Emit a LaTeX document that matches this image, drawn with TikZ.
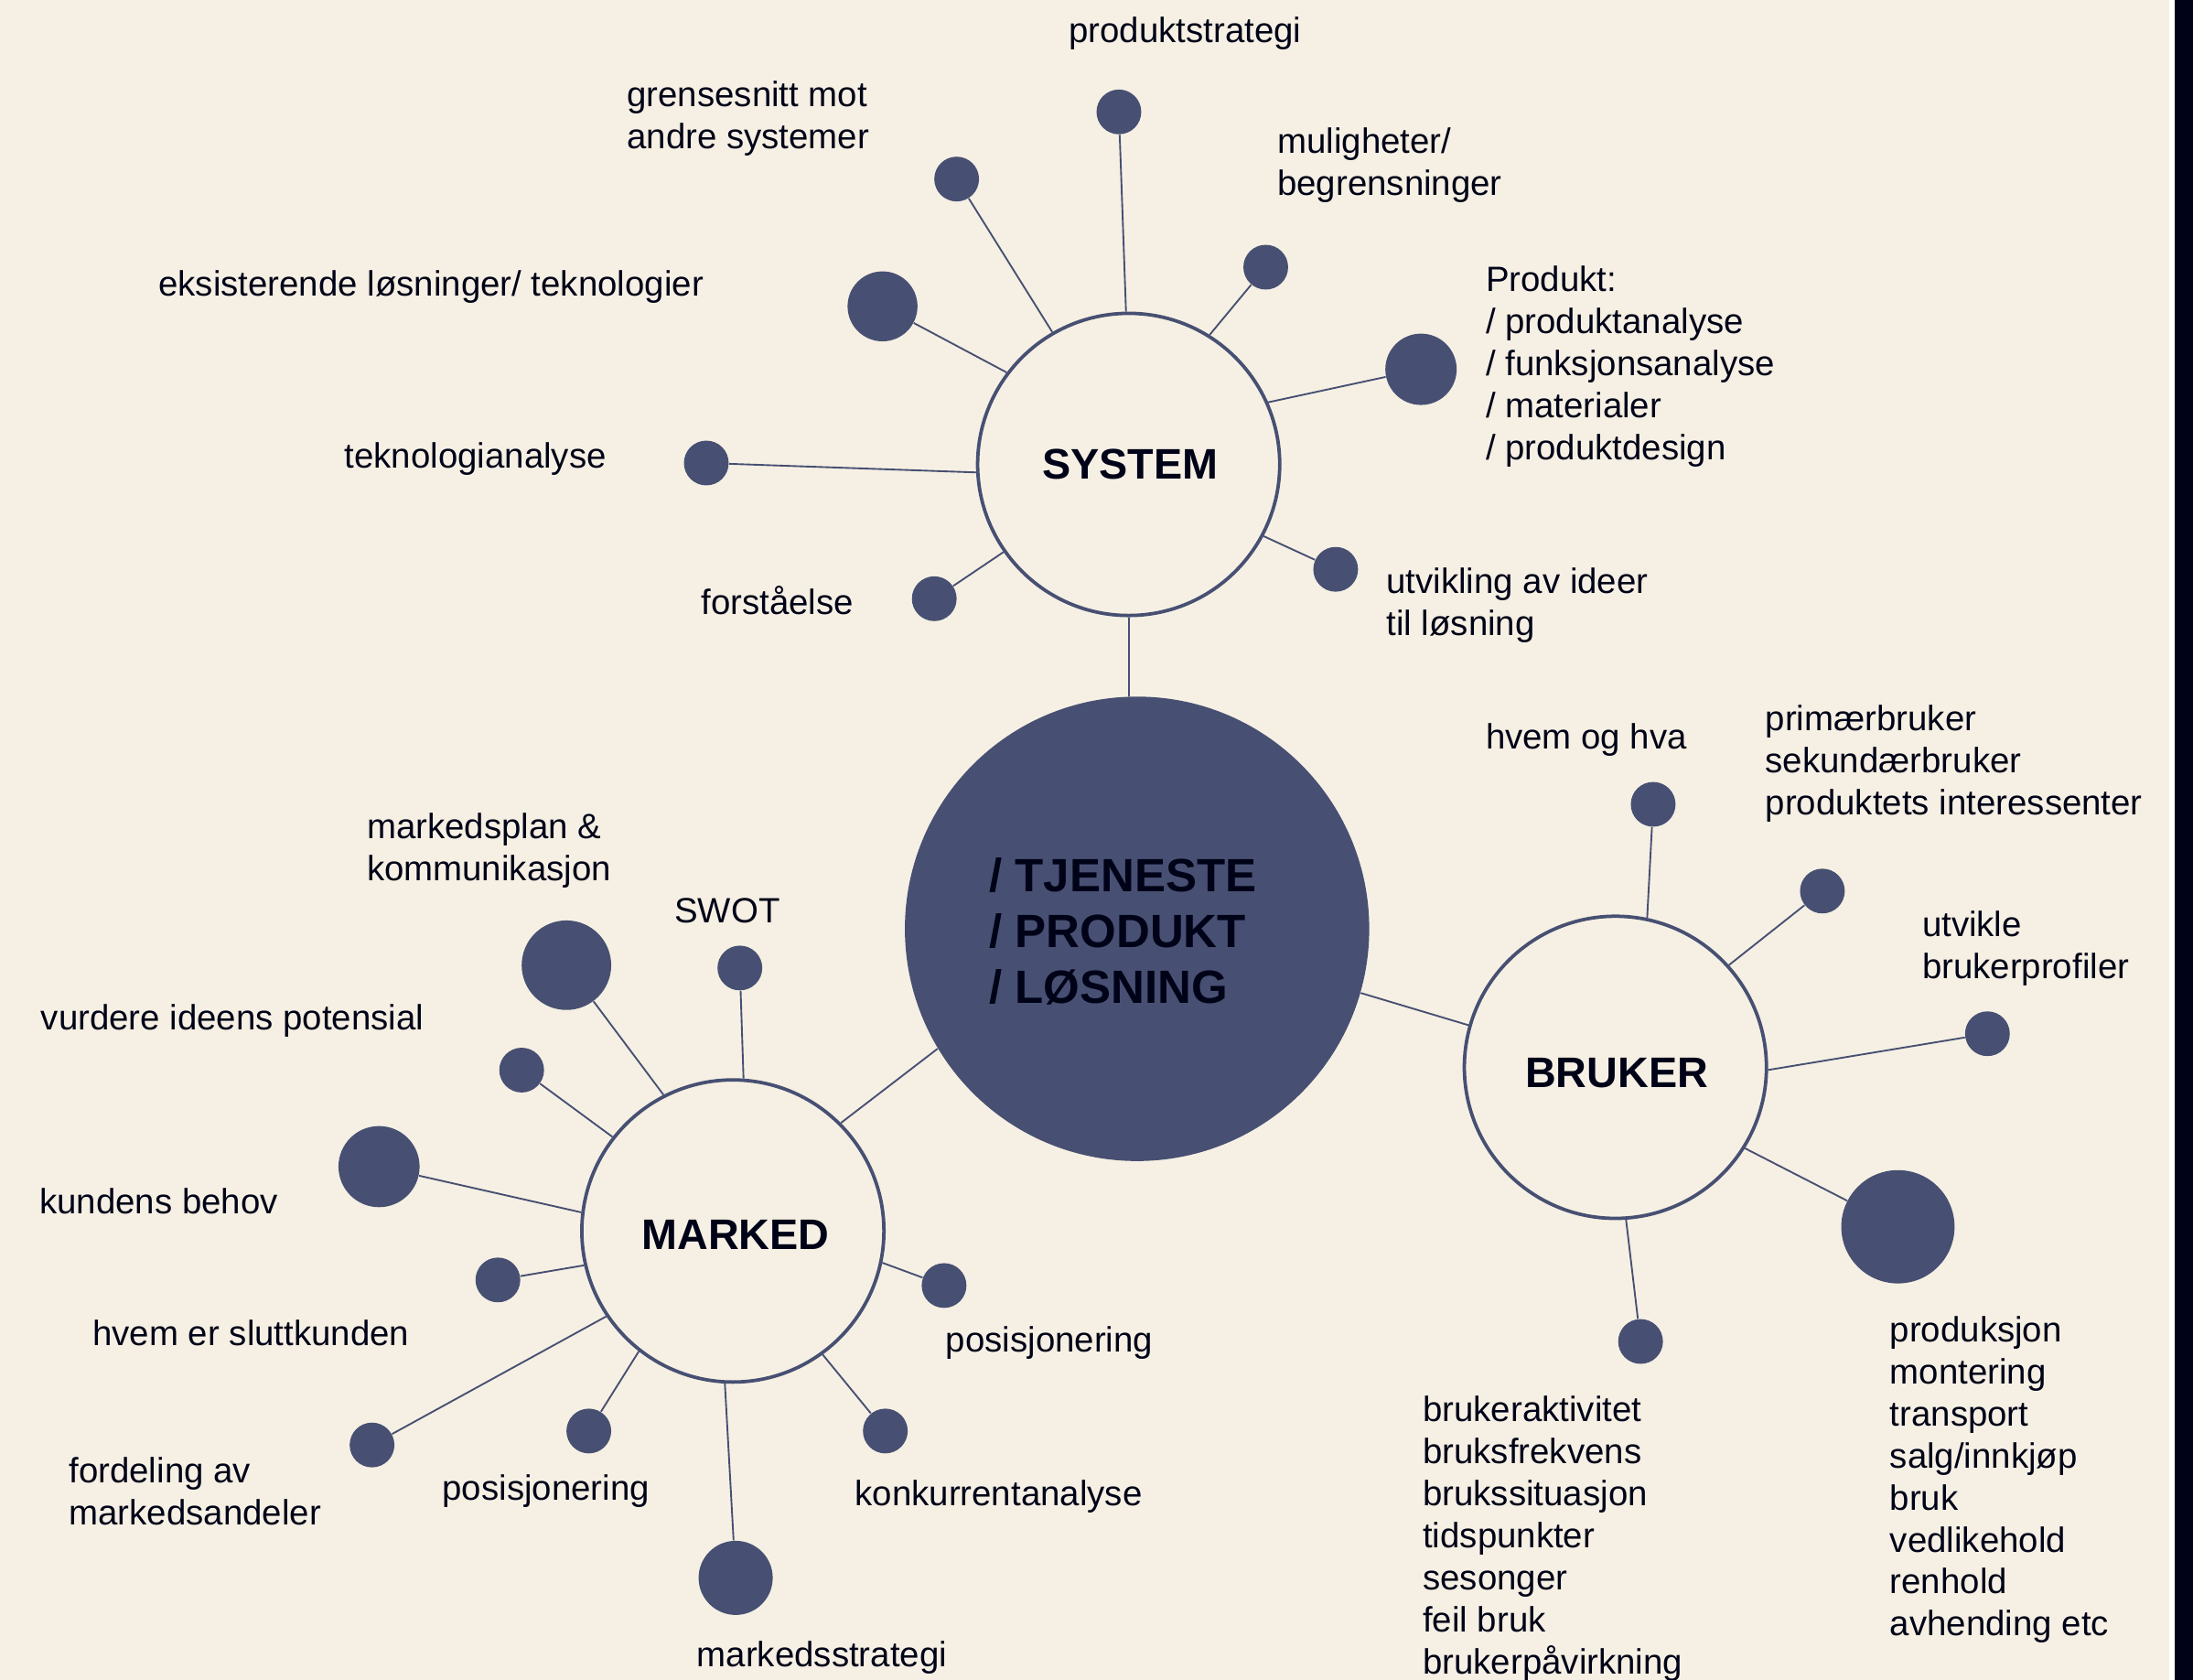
\documentclass[tikz,border=0pt]{standalone}
\usepackage{fontspec}
\setmainfont{Liberation Sans}
\newlength\px \setlength\px{0.02cm}
\definecolor{bg}{RGB}{246,240,228}
\definecolor{navy}{RGB}{71,80,114}
\definecolor{ink}{RGB}{0,3,24}
\definecolor{edgebar}{RGB}{0,2,24}
\begin{document}
\begin{tikzpicture}[x=0.02cm,y=-0.02cm,
  conn/.style={draw=navy,line width=0.7pt},
  ring/.style={circle,draw=navy,line width=1.4pt,fill=bg,inner sep=0pt,minimum size=216\px},
  ringtext/.style={inner sep=0pt,text=ink,font=\fontsize{17.4}{20}\selectfont\bfseries},
  hub/.style={circle,fill=navy,inner sep=0pt,minimum size=332\px},
  sat/.style={circle,fill=navy,inner sep=0pt,minimum size=#1\px},
  sat/.default=32,
  lbl/.style={anchor=west,inner sep=0pt,align=left,text=ink,font=\fontsize{14.3}{17.07}\selectfont,yshift=-2\px},
]
\useasboundingbox (0,0) rectangle (1568,1201);
\fill[bg] (0,0) rectangle (1551,1201);
\fill[white] (1551,0) rectangle (1555,1201);
\fill[edgebar] (1555,0) rectangle (1568,1201);

% main nodes
\node[hub] (core) at (813,664) {};
\node[lbl,font=\fontsize{19}{22.7}\selectfont\bfseries] (coretext) at (707,664) {/ TJENESTE\\/ PRODUKT\\/ LØSNING};
\node[ring] (sys) at (807,332) {};
\node[ring] (mkt) at (524,880) {};
\node[ring] (usr) at (1155,763) {};
\node[ringtext] (systext) at (808,332) {SYSTEM};
\node[ringtext] (mkttext) at (526,883) {MARKED};
\node[ringtext] (usrtext) at (1156,767) {BRUKER};

\draw[conn] (sys.south) -- (core.north -| sys.south);
\draw[conn] (core.211.4) -- (mkt.45.4);
\draw[conn] (core.344.1) -- (usr.164.8);

% SYSTEM satellites
\node[sat] (s1) at (800,80) {};
\node[sat] (s2) at (684,128) {};
\node[sat] (s3) at (905,191) {};
\node[sat=50] (s4) at (631,219) {};
\node[sat=51] (s5) at (1016,264) {};
\node[sat] (s6) at (505,331) {};
\node[sat] (s7) at (668,428) {};
\node[sat] (s8) at (955,407) {};
\draw[conn] (s1) -- (sys.91);
\draw[conn] (s2) -- (sys.120.8);
\draw[conn] (s3) -- (sys.58.8);
\draw[conn] (s4) -- (sys.143.9);
\draw[conn] (s5) -- (sys.24.4);
\draw[conn] (s6) -- (sys.183.7);
\draw[conn] (s7) -- (sys.215);
\draw[conn] (s8) -- (sys.332.7);
\node[lbl] (ls1) at (764,22) {produktstrategi};
\node[lbl] (ls2) at (448,83) {grensesnitt mot\\andre systemer};
\node[lbl] (ls3) at (913,116) {muligheter/\\begrensninger};
\node[lbl] (ls4) at (113,203) {eksisterende løsninger/ teknologier};
\node[lbl] (ls5) at (1062,260) {Produkt:\\/ produktanalyse\\/ funksjonsanalyse\\/ materialer\\/ produktdesign};
\node[lbl] (ls6) at (246,326) {teknologianalyse};
\node[lbl] (ls7) at (501,427) {forståelse};
\node[lbl] (ls8) at (991,431) {utvikling av ideer\\til løsning};

% MARKED satellites
\node[sat=64] (m1) at (405,690) {};
\node[sat] (m2) at (529,692) {};
\node[sat] (m3) at (373,765) {};
\node[sat=58] (m4) at (271,834) {};
\node[sat] (m5) at (356,915) {};
\node[sat] (m6) at (266,1033) {};
\node[sat] (m7) at (421,1023) {};
\node[sat=53] (m8) at (526,1128) {};
\node[sat] (m9) at (633,1023) {};
\node[sat] (m10) at (675,919) {};
\draw[conn] (m1) -- (mkt.117.5);
\draw[conn] (m2) -- (mkt.86.3);
\draw[conn] (m3) -- (mkt.142.4);
\draw[conn] (m4) -- (mkt.173.1);
\draw[conn] (m5) -- (mkt.193.2);
\draw[conn] (m6) -- (mkt.214.7);
\draw[conn] (m7) -- (mkt.232.1);
\draw[conn] (m8) -- (mkt.267.9);
\draw[conn] (m9) -- (mkt.306.3);
\draw[conn] (m10) -- (mkt.348.3);
\node[lbl] (lm1) at (262,606) {markedsplan \&\\kommunikasjon};
\node[lbl] (lm2) at (482,649) {SWOT};
\node[lbl] (lm3) at (29,728) {vurdere ideens potensial};
\node[lbl] (lm4) at (28,857) {kundens behov};
\node[lbl] (lm5) at (66,951) {hvem er sluttkunden};
\node[lbl] (lm6) at (49,1064) {fordeling av\\markedsandeler};
\node[lbl] (lm7) at (316,1064) {posisjonering};
\node[lbl] (lm8) at (498,1183) {markedsstrategi};
\node[lbl] (lm9) at (611,1068) {konkurrentanalyse};
\node[lbl] (lm10) at (676,958) {posisjonering};

% BRUKER satellites
\node[sat] (u1) at (1182,575) {};
\node[sat] (u2) at (1303,637) {};
\node[sat] (u3) at (1421,739) {};
\node[sat=81] (u4) at (1357,877) {};
\node[sat] (u5) at (1173,959) {};
\draw[conn] (u1) -- (usr.78.3);
\draw[conn] (u2) -- (usr.42);
\draw[conn] (u3) -- (usr.359.5);
\draw[conn] (u4) -- (usr.328.2);
\draw[conn] (u5) -- (usr.274.8);
\node[lbl] (lu1) at (1062,527) {hvem og hva};
\node[lbl] (lu2) at (1262,544) {primærbruker\\sekundærbruker\\produktets interessenter};
\node[lbl] (lu3) at (1374,676) {utvikle\\brukerprofiler};
\node[lbl] (lu4) at (1351,1056) {produksjon\\montering\\transport\\salg/innkjøp\\bruk\\vedlikehold\\renhold\\avhending etc};
\node[lbl] (lu5) at (1017,1098) {brukeraktivitet\\bruksfrekvens\\brukssituasjon\\tidspunkter\\sesonger\\feil bruk\\brukerpåvirkning};
\end{tikzpicture}
\end{document}
